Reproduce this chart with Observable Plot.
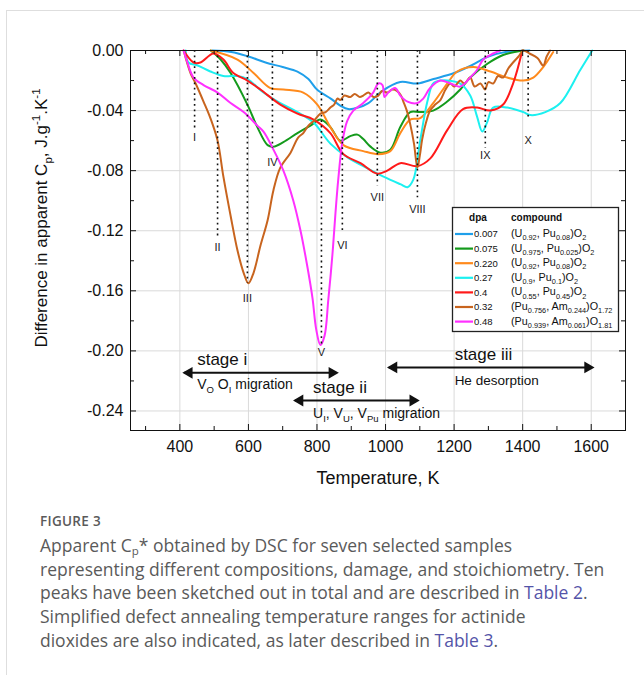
<!DOCTYPE html>
<html><head><meta charset="utf-8">
<script src="https://cdn.jsdelivr.net/npm/d3@7"></script>
<script src="https://cdn.jsdelivr.net/npm/@observablehq/plot@0.6"></script>
<style>
html,body{margin:0;padding:0;background:#fff;}
body{width:644px;height:675px;overflow:hidden;position:relative;font-family:"Liberation Sans",Arial,sans-serif;}
#card{position:absolute;left:6px;top:10px;width:800px;height:800px;border-left:1px solid #dedede;border-top:1px solid #dedede;}
#chart{position:absolute;left:0;top:0;}
#fig{position:absolute;left:40px;top:512px;font-family:"Open Sans",sans-serif;font-weight:600;font-size:13.5px;color:#5a5a5a;letter-spacing:0.3px;}
#cap{position:absolute;left:40px;top:534px;font-family:"Open Sans",sans-serif;font-size:17.5px;line-height:23.7px;color:#5a5a5a;white-space:nowrap;}
#cap sub{font-size:11.5px;vertical-align:-3px;line-height:0;}
.lnk{color:#5454a8;}
</style></head>
<body>
<div id="card"></div>
<div id="chart"></div>
<div id="fig">FIGURE 3</div>
<div id="cap">Apparent C<sub>p</sub>* obtained by DSC for seven selected samples<br>representing different compositions, damage, and stoichiometry. Ten<br>peaks have been sketched out in total and are described in <span class="lnk">Table 2</span>.<br>Simplified defect annealing temperature ranges for actinide<br>dioxides are also indicated, as later described in <span class="lnk">Table 3</span>.</div>
<script>
// ---------- data ----------
const dpaLabels = ["0.007","0.075","0.220","0.27","0.4","0.32","0.48"];
const compounds = ["(U_{0.92}, Pu_{0.08})O_{2}","(U_{0.975}, Pu_{0.025})O_{2}","(U_{0.92}, Pu_{0.08})O_{2}","(U_{0.9}, Pu_{0.1})O_{2}","(U_{0.55}, Pu_{0.45})O_{2}","(Pu_{0.756}, Am_{0.244})O_{1.72}","(Pu_{0.939}, Am_{0.061})O_{1.81}"];
const colors = ["#1f9fea","#149a1c","#ff8a1c","#1cf0f0","#ff1a1a","#c8641e","#ff30ff"];

const blueT = [495,550,600,650,700,743,775,800,840,870,891,920,950,990,1043,1093,1140,1200,1250,1300,1350,1420];
const blueV = [0,-0.001,-0.004,-0.008,-0.011,-0.014,-0.019,-0.026,-0.032,-0.037,-0.039,-0.038,-0.035,-0.027,-0.021,-0.022,-0.019,-0.015,-0.010,-0.004,-0.001,0];

const greenT = [490,519,548,597,626,656,673,702,743,781,810,839,868,897,918,935,956,985,1014,1043,1072,1101,1139,1180,1218,1247,1296,1343,1402];
const greenV = [0,-0.006,-0.015,-0.036,-0.051,-0.063,-0.064,-0.061,-0.055,-0.050,-0.046,-0.051,-0.060,-0.057,-0.056,-0.059,-0.064,-0.068,-0.066,-0.051,-0.041,-0.041,-0.040,-0.034,-0.026,-0.018,-0.009,-0.003,0];

const orangeT = [490,568,615,664,702,760,801,839,877,935,979,1014,1043,1072,1101,1139,1180,1209,1256,1306,1355,1402,1431,1460,1489];
const orangeV = [0,-0.006,-0.015,-0.025,-0.026,-0.028,-0.036,-0.051,-0.063,-0.067,-0.069,-0.067,-0.055,-0.046,-0.045,-0.035,-0.022,-0.014,-0.011,-0.014,-0.018,-0.020,-0.018,-0.011,-0.001];

const cyanT = [417,425,452,489,527,568,597,644,693,743,790,839,888,935,994,1043,1064,1081,1101,1122,1139,1160,1218,1247,1267,1282,1296,1314,1355,1402,1423,1466,1510,1568,1603];
const cyanV = [0,-0.008,-0.010,-0.014,-0.017,-0.017,-0.019,-0.028,-0.035,-0.041,-0.048,-0.062,-0.071,-0.077,-0.084,-0.089,-0.091,-0.086,-0.060,-0.034,-0.022,-0.020,-0.022,-0.030,-0.044,-0.054,-0.048,-0.038,-0.038,-0.041,-0.043,-0.041,-0.035,-0.013,0];

const redT = [411,440,460,498,527,556,597,635,693,743,790,839,877,927,976,1005,1043,1093,1130,1180,1226,1267,1306,1343,1372,1399];
const redV = [0,-0.008,-0.008,-0.002,-0.006,-0.015,-0.020,-0.026,-0.036,-0.042,-0.046,-0.055,-0.069,-0.075,-0.082,-0.080,-0.075,-0.077,-0.072,-0.053,-0.039,-0.038,-0.040,-0.036,-0.022,0];

const brownT = [411,431,446,469,489,510,527,548,568,586,600,615,635,656,673,693,723,745,760,775,790,810,825,839,850,860,868,880,897,910,925,935,950,965,979,990,1005,1020,1034,1045,1052,1062,1072,1083,1093,1100,1107,1118,1130,1145,1160,1175,1189,1200,1218,1230,1247,1260,1277,1290,1300,1314,1328,1343,1358,1372,1388,1402,1420,1443,1460,1470,1480];
const brownV = [0,-0.015,-0.022,-0.034,-0.045,-0.060,-0.084,-0.110,-0.133,-0.148,-0.155,-0.148,-0.130,-0.113,-0.093,-0.078,-0.068,-0.058,-0.055,-0.050,-0.047,-0.042,-0.041,-0.038,-0.036,-0.032,-0.033,-0.030,-0.031,-0.029,-0.031,-0.030,-0.028,-0.031,-0.030,-0.027,-0.028,-0.026,-0.027,-0.030,-0.034,-0.040,-0.049,-0.062,-0.078,-0.070,-0.059,-0.048,-0.040,-0.036,-0.033,-0.026,-0.022,-0.024,-0.020,-0.022,-0.018,-0.024,-0.022,-0.026,-0.021,-0.022,-0.017,-0.018,-0.012,-0.008,-0.004,0,-0.002,-0.005,-0.010,-0.004,0];

const magentaT = [411,422,440,469,510,548,586,626,644,673,702,731,752,772,787,798,810,822,833,845,854,862,874,888,906,935,964,979,991,997,1008,1028,1043,1064,1093,1110,1130,1160,1189,1218,1247,1267,1285,1314,1335];
const magentaV = [0,-0.008,-0.018,-0.023,-0.028,-0.035,-0.041,-0.050,-0.054,-0.066,-0.080,-0.100,-0.120,-0.144,-0.165,-0.186,-0.196,-0.190,-0.166,-0.136,-0.108,-0.086,-0.061,-0.047,-0.040,-0.035,-0.028,-0.022,-0.023,-0.031,-0.028,-0.025,-0.030,-0.034,-0.035,-0.032,-0.025,-0.020,-0.022,-0.024,-0.018,-0.013,-0.006,-0.002,0];

const seriesT = [blueT,greenT,orangeT,cyanT,redT,brownT,magentaT];
const seriesV = [blueV,greenV,orangeV,cyanV,redV,brownV,magentaV];

const peakLabels = ["I","II","III","IV","V","VI","VII","VIII","IX","X"];
const peakT = [443,510,597,670,813,874,976,1093,1291,1416];
const peakEnd = [-0.052,-0.124,-0.155,-0.065,-0.196,-0.121,-0.090,-0.098,-0.065,-0.046];
const peakLabelY = [-0.058,-0.131,-0.165,-0.0744,-0.201,-0.1296,-0.098,-0.106,-0.070,-0.060];

const stageTitles = ["stage i","stage ii","stage iii"];
const stageNotes = ["V_{O} O_{I} migration","U_{I}, V_{U}, V_{Pu} migration","He desorption"];
const stageFrom = [414,737,1011];
const stageTo = [857,1093,1603];
const stageY = [-0.2146,-0.233,-0.211];

const xMajor = [400,600,800,1000,1200,1400,1600];
const xMinor = [300,500,700,900,1100,1300,1500,1700];
const yMajor = [0,-0.04,-0.08,-0.12,-0.16,-0.20,-0.24];
const yMinor = [-0.02,-0.06,-0.10,-0.14,-0.18,-0.22];

// ---------- tables ----------
const rows = [];
seriesT.forEach((ts,i)=>ts.forEach((t,j)=>rows.push({s:i,T:t,V:seriesV[i][j]})));
const peaks = peakLabels.map((l,i)=>({label:l,T:peakT[i],end:peakEnd[i],ly:peakLabelY[i]}));
const stages = stageTitles.map((s,i)=>({title:s,note:stageNotes[i],from:stageFrom[i],to:stageTo[i],y:stageY[i]}));
// annotation text anchors (data units)
const stageTextT = [452,790,1203];
const stageTitleDY = [0.0048,0.0044,0.0043];
const stageNoteDY = [-0.0112,-0.0122,-0.0118];

const frameW = 644-130-19, frameH = 500-50-70;
const fontAxis = "Liberation Sans, Arial, sans-serif";

const chart = Plot.plot({
  width:644, height:500,
  marginLeft:130, marginRight:19, marginTop:50, marginBottom:70,
  style:{fontFamily:fontAxis, background:"transparent", color:"#111"},
  x:{domain:[256,1700]},
  y:{domain:[-0.253,0]},
  marks:[
    Plot.ruleX(xMajor,{stroke:"#dadada",strokeWidth:1}),
    Plot.ruleY(yMajor.filter(d=>d<0),{stroke:"#dadada",strokeWidth:1}),
    ...seriesT.map((_,i)=>Plot.line(rows.filter(r=>r.s===i),{x:"T",y:"V",stroke:colors[i],strokeWidth:2,curve:"catmull-rom"})),
    Plot.ruleX(peaks,{x:"T",y1:0,y2:"end",stroke:"#111",strokeWidth:1.6,strokeDasharray:"1.8,3.6"}),
    Plot.text(peaks,{x:"T",y:"ly",text:"label",fontSize:11,fill:"#222"}),
    Plot.ruleY(stages,{x1:"from",x2:"to",y:"y",stroke:"#111",strokeWidth:2}),
    Plot.dot(stages,{x:"from",y:"y",symbol:"triangle",rotate:-90,r:4.4,fill:"#111",stroke:null,dx:4.5}),
    Plot.dot(stages,{x:"to",y:"y",symbol:"triangle",rotate:90,r:4.4,fill:"#111",stroke:null,dx:-4.5}),
    Plot.frame({stroke:"#111",strokeWidth:1}),
    Plot.tickX(xMajor,{x:d=>d,insetTop:frameH-6,stroke:"#111"}),
    Plot.tickX(xMinor,{x:d=>d,insetTop:frameH-4,stroke:"#111"}),
    Plot.tickX(xMajor,{x:d=>d,insetBottom:frameH-6,stroke:"#111"}),
    Plot.tickX(xMinor,{x:d=>d,insetBottom:frameH-4,stroke:"#111"}),
    Plot.tickY(yMajor,{y:d=>d,insetRight:frameW-6,stroke:"#111"}),
    Plot.tickY(yMinor,{y:d=>d,insetRight:frameW-4,stroke:"#111"}),
    Plot.tickY(yMajor,{y:d=>d,insetLeft:frameW-6,stroke:"#111"}),
    Plot.tickY(yMinor,{y:d=>d,insetLeft:frameW-4,stroke:"#111"}),
    Plot.axisX(xMajor,{tickSize:0,tickPadding:10,fontSize:16,label:null,tickFormat:d=>String(d)}),
    Plot.axisY(yMajor,{tickSize:0,tickPadding:7,fontSize:16,label:null,tickFormat:d=>d===0?"0.00":d.toFixed(2)}),
    Plot.axisX({ticks:[],label:"Temperature, K",labelAnchor:"center",labelArrow:"none",labelOffset:53,fontSize:18,tickSize:0})
  ]
});
document.getElementById("chart").appendChild(chart);

// ---------- rich text helper ----------
function rich(sel, str, size){
  const re = /([_^])\{([^}]*)\}|([^_^]+)/g;
  let m, shift = 0;
  while((m = re.exec(str))){
    if(m[3]){
      const t = sel.append("tspan").text(m[3]);
      if(shift){ t.attr("dy", -shift); shift = 0; }
    } else {
      const s = m[1]==="_" ? size*0.3 : -size*0.42;
      const t = sel.append("tspan").text(m[2]).attr("font-size", size*0.68).attr("dy", s - shift);
      shift = s;
    }
  }
}

const svg = d3.select(chart);
const sx = chart.scale("x"), sy = chart.scale("y");
const ann = svg.append("g").attr("font-family", fontAxis).attr("fill","#111").attr("text-anchor","start");
stages.forEach((st,i)=>{
  const px = sx.apply(stageTextT[i]);
  ann.append("text").attr("x",px).attr("y",sy.apply(st.y+stageTitleDY[i])).attr("font-size",17).attr("text-anchor","start").text(st.title);
  const t = ann.append("text").attr("x",px).attr("y",sy.apply(st.y+stageNoteDY[i])).attr("font-size", i===2?13.5:14).attr("text-anchor","start");
  rich(t, st.note, i===2?13.5:14);
});

// y axis label
const yl = svg.append("text").attr("transform","translate(47,218) rotate(-90)").attr("text-anchor","middle")
  .attr("font-family",fontAxis).attr("font-size",17).attr("fill","#111");
rich(yl, "Difference in apparent C_{p}, J.g^{-1}.K^{-1}", 17);

// legend
const lg = svg.append("g").attr("font-family",fontAxis).attr("fill","#111").attr("text-anchor","start");
lg.append("rect").attr("x",452.5).attr("y",207.5).attr("width",166).attr("height",124).attr("fill","#fff").attr("stroke","#222").attr("stroke-width",1.3);
lg.append("text").attr("x",478).attr("y",221).attr("text-anchor","middle").attr("font-weight","bold").attr("font-size",10).text("dpa");
lg.append("text").attr("x",511).attr("y",221).attr("text-anchor","start").attr("font-weight","bold").attr("font-size",10).text("compound");
dpaLabels.forEach((d,i)=>{
  const yy = 234 + i*14.6;
  lg.append("line").attr("x1",455).attr("x2",473).attr("y1",yy).attr("y2",yy).attr("stroke",colors[i]).attr("stroke-width",2.2);
  lg.append("text").attr("x",474).attr("y",yy+3.3).attr("font-size",9.5).attr("text-anchor","start").text(d);
  const t = lg.append("text").attr("x",511).attr("y",yy+3).attr("font-size",10.8).attr("text-anchor","start");
  rich(t, compounds[i], 10.8);
});
</script>
</body></html>
